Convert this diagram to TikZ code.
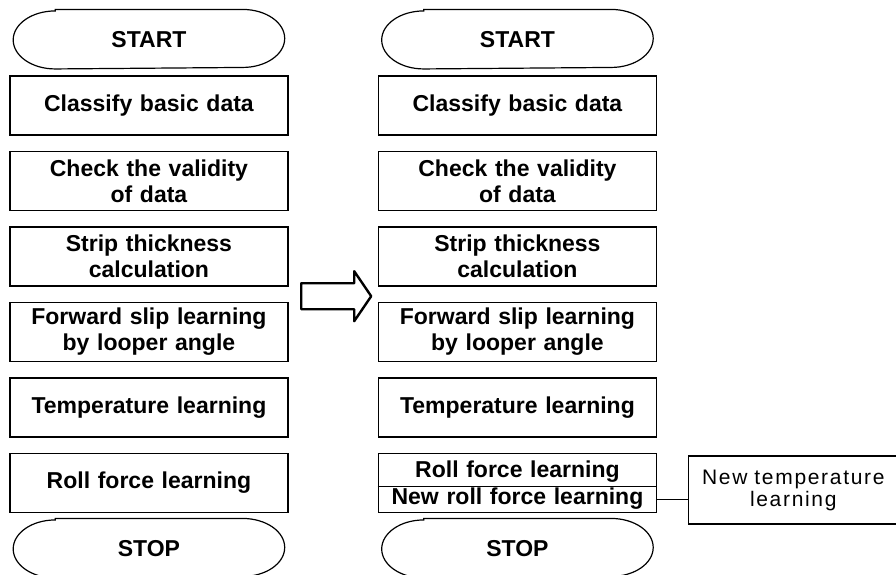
\documentclass[tikz,border=0pt]{standalone}
\usepackage{fontspec}
\setmainfont{Liberation Sans}
\newfontfamily\widesans[LetterSpace=8]{Liberation Sans}
\usetikzlibrary{matrix,positioning,calc}

\tikzset{
  box/.style={draw, line width=1.5pt, text width=270pt, inner xsep=4pt, inner ysep=2pt,
    minimum height=59pt, align=center, anchor=center, font=\fontsize{23}{26}\selectfont\bfseries},
  terminal/.style={box, draw=none, text width=262pt, minimum height=58pt},
  splitbox/.style={box, inner ysep=0pt},
  sidebox/.style={draw, line width=1.2pt, text width=199pt, inner xsep=5pt, minimum height=68pt,
    align=center, font=\fontsize{21}{22}\selectfont\widesans}
}

\begin{document}
\begin{tikzpicture}[x=1pt,y=1pt]
\useasboundingbox (0,0) rectangle (896,-575);
\matrix (m)[matrix of nodes, anchor=north west, inner sep=0pt, column sep=89pt, row sep=15pt, nodes={box}] at (9,-10) {
|[terminal]| START & |[terminal]| START \\[-8pt]
Classify basic data & Classify basic data \\
{Check the validity\\of data} & {Check the validity\\of data} \\
{Strip thickness\\calculation} & {Strip thickness\\calculation} \\
{Forward slip learning\\by looper angle} & {Forward slip learning\\by looper angle} \\
Temperature learning & Temperature learning \\
Roll force learning & |[splitbox]| {\rule[-10pt]{0pt}{33pt}Roll force learning\\\rule[-7pt]{0pt}{18pt}New roll force learning} \\[-9pt]
|[terminal]| STOP & |[terminal]| STOP \\
};

% start / stop outlines
\foreach \t in {m-1-1,m-1-2,m-8-1,m-8-2}
  \draw[line width=1.2pt] ([xshift=42pt]\t.north west) -- ([xshift=-42pt]\t.north east)
    arc[start angle=90,end angle=-90,x radius=42pt,y radius=29pt]
    -- ([xshift=42pt]\t.south west)
    arc[start angle=270,end angle=90,x radius=42pt,y radius=29pt] -- cycle;

% divider of the double box
\draw[line width=1.5pt] ([yshift=-34pt]m-7-2.north west) -- ([yshift=-34pt]m-7-2.north east);

% block arrow between the two charts
\coordinate (move) at ($(m-4-1.south east)!0.5!(m-5-2.north west)+(3,-2)$);
\draw[line width=2.4pt, line join=round] (move) ++(-35,13) -- ++(53,0) -- ++(0,12) -- ++(17,-25)
  -- ++(-17,-25) -- ++(0,12) -- ++(-53,0) -- cycle;

\node (newtemp)[sidebox, right=31pt of m-7-2, yshift=-7pt] {New temperature\\learning};
\draw[line width=1.5pt] ([yshift=-47pt]m-7-2.north east) -- ([yshift=-47pt]m-7-2.north east -| newtemp.west);
\end{tikzpicture}
\end{document}
